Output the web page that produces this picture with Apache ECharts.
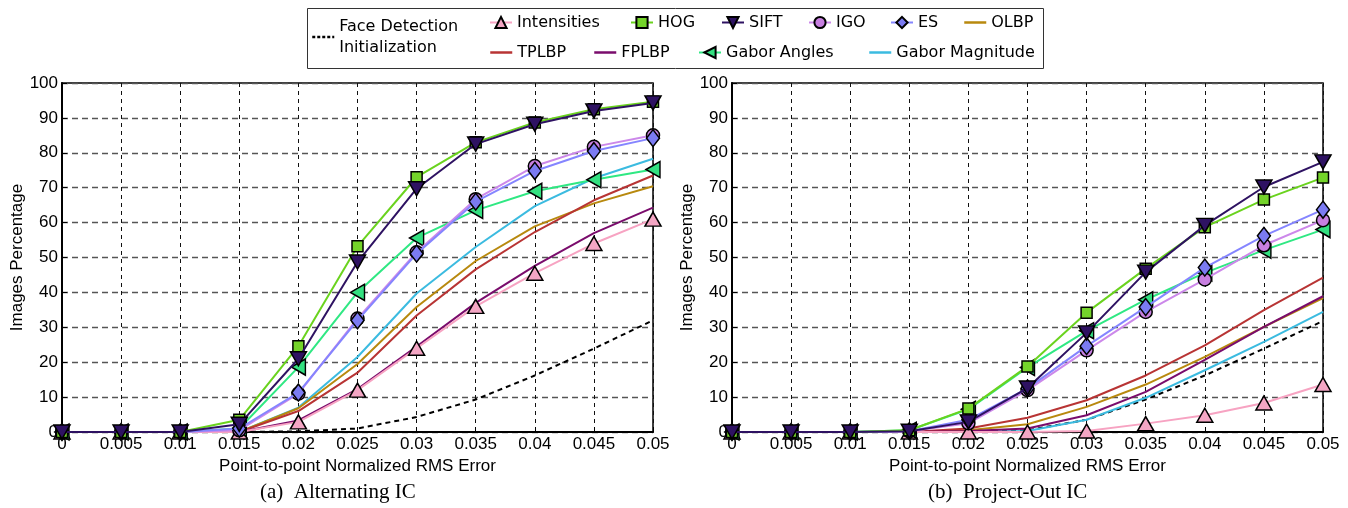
<!DOCTYPE html>
<html>
<head>
<meta charset="utf-8">
<script src="https://cdn.jsdelivr.net/npm/echarts@6/dist/echarts.min.js"></script>
<style>
html,body{margin:0;padding:0;background:#fff;}
#chart{width:1348px;height:508px;}
</style>
</head>
<body>
<div id="chart"></div>
<script>
// ---- Data ----
const xValues = [0, 0.005, 0.01, 0.015, 0.02, 0.025, 0.03, 0.035, 0.04, 0.045, 0.05];
const xTickLabels = ['0', '0.005', '0.01', '0.015', '0.02', '0.025', '0.03', '0.035', '0.04', '0.045', '0.05'];
const yTickLabels = ['0', '10', '20', '30', '40', '50', '60', '70', '80', '90', '100'];
const seriesNames = ['Face Detection Initialization', 'Intensities', 'HOG', 'SIFT', 'IGO', 'ES', 'OLBP', 'TPLBP', 'FPLBP', 'Gabor Angles', 'Gabor Magnitude'];
const captions = ['(a)  Alternating IC', '(b)  Project-Out IC'];
const xAxisTitle = 'Point-to-point Normalized RMS Error';
const yAxisTitle = 'Images Percentage';

// (a) Alternating IC
const faceA     = [0, 0, 0, 0, 0.2, 1, 4.3, 9.3, 16.2, 23.9, 32];
const intensA   = [0, 0, 0, 0, 2.9, 12, 24, 36, 45.5, 54, 61];
const hogA      = [0, 0, 0, 3.5, 24.6, 53.2, 73, 83, 88.7, 92.5, 94.6];
const siftA     = [0, 0, 0, 2.2, 21, 48.7, 69.7, 82.5, 88.2, 92, 94.3];
const igoA      = [0, 0, 0, 0.5, 11, 32.5, 51.5, 66.7, 76.2, 81.7, 85];
const esA       = [0, 0, 0, 1, 11.3, 32, 51.1, 66, 74.8, 80.5, 84.2];
const olbpA     = [0, 0, 0, 0, 6.8, 19.5, 35.8, 49, 58.9, 65.5, 70.4];
const tplbpA    = [0, 0, 0, 0, 6, 17, 33.4, 46.6, 57.3, 66.4, 73.5];
const fplbpA    = [0, 0, 0, 0, 3.3, 12.3, 24.5, 37, 47.6, 57, 64.3];
const gaborAngA = [0, 0, 0, 1, 18.6, 40, 55.6, 63.5, 69, 72.3, 75.2];
const gaborMagA = [0, 0, 0, 0, 7, 21.5, 39.7, 53, 64.7, 72.7, 78.3];

// (b) Project-Out IC
const faceB     = [0, 0, 0, 0, 0.1, 0.5, 3.5, 9.3, 16.2, 23.9, 31.8];
const intensB   = [0, 0, 0, 0, 0, 0, 0.3, 2.4, 4.8, 8.3, 13.6];
const hogB      = [0, 0, 0, 0.5, 6.7, 18.8, 34.2, 46.8, 58.7, 66.6, 72.9];
const siftB     = [0, 0, 0, 0.2, 2.9, 12.6, 28.4, 45.8, 59.2, 70.2, 77.4];
const igoB      = [0, 0, 0, 0.2, 2.5, 12, 23.4, 34.4, 43.7, 53.5, 60.7];
const esB       = [0, 0, 0, 0.2, 3.5, 12.5, 24.6, 35.8, 47.1, 56.2, 63.7];
const olbpB     = [0, 0, 0, 0, 0.5, 2.2, 7.2, 13.6, 21.5, 30.1, 38.4];
const tplbpB    = [0, 0, 0, 0, 1, 4.1, 9.1, 16.2, 24.8, 34.9, 44.2];
const fplbpB    = [0, 0, 0, 0, 0.3, 1, 4.8, 11.5, 20.7, 30.1, 38.9];
const gaborAngB = [0, 0, 0, 0.5, 6.5, 18.5, 29, 37.9, 45.6, 52.1, 58];
const gaborMagB = [0, 0, 0, 0, 0.1, 0.3, 3.5, 9.8, 17.7, 25.8, 34.4];

const dataA = [faceA, intensA, hogA, siftA, igoA, esA, olbpA, tplbpA, fplbpA, gaborAngA, gaborMagA];
const dataB = [faceB, intensB, hogB, siftB, igoB, esB, olbpB, tplbpB, fplbpB, gaborAngB, gaborMagB];

// ---- Styles ----
const styles = [
  {color: '#000000', fill: null, symbol: 'none', dash: [5, 4]},
  {color: '#f7a3c2', fill: '#f4a6c4', symbol: 'triangle', size: [16, 14], rot: 0},
  {color: '#6ad31e', fill: '#74d42a', symbol: 'rect', size: [11, 11], rot: 0},
  {color: '#2e1262', fill: '#2e1262', symbol: 'triangle', size: [16, 14], rot: 180},
  {color: '#cc88ea', fill: '#c77fe0', symbol: 'circle', size: [13, 13], rot: 0},
  {color: '#8585ff', fill: '#7b7bf2', symbol: 'diamond', size: [13, 17], rot: 0},
  {color: '#b8890e', fill: null, symbol: 'none'},
  {color: '#b83434', fill: null, symbol: 'none'},
  {color: '#7a0c6c', fill: null, symbol: 'none'},
  {color: '#2fe883', fill: '#33e080', symbol: 'triangle', size: [16, 14], rot: 90},
  {color: '#3bbbe0', fill: null, symbol: 'none'}
];
// drawing order (later on top)
const drawOrder = [0, 10, 6, 7, 8, 1, 9, 4, 5, 2, 3];

const grids = [
  {left: 62, top: 83, width: 591, height: 349},
  {left: 732, top: 83, width: 591, height: 349}
];

const axisFont = 'Liberation Sans';

function makeX(i) {
  return {
    gridIndex: i, type: 'value', min: 0, max: 0.05, interval: 0.005,
    axisLine: {show: true, onZero: false, lineStyle: {color: '#000', width: 2}},
    axisTick: {show: true, inside: true, length: 5, lineStyle: {color: '#000', width: 1}},
    axisLabel: {color: '#000', fontFamily: axisFont, fontSize: 17, margin: 4,
      formatter: v => xTickLabels[Math.round(v / 0.005)]},
    splitLine: {show: true, lineStyle: {color: '#111', width: 1, type: [4, 4]}},
    name: xAxisTitle, nameLocation: 'middle', nameGap: 17,
    nameTextStyle: {color: '#000', fontFamily: axisFont, fontSize: 17}
  };
}
function makeY(i) {
  return {
    gridIndex: i, type: 'value', min: 0, max: 100, interval: 10,
    axisLine: {show: true, onZero: false, lineStyle: {color: '#000', width: 2}},
    axisTick: {show: true, inside: true, length: 5, lineStyle: {color: '#000', width: 1}},
    axisLabel: {color: '#000', fontFamily: axisFont, fontSize: 17, margin: 4,
      formatter: v => yTickLabels[Math.round(v / 10)]},
    splitLine: {show: true, lineStyle: {color: '#555', width: 1.4, type: [6, 4]}},
    name: yAxisTitle, nameLocation: 'middle', nameGap: 32, nameRotate: 90,
    nameTextStyle: {color: '#000', fontFamily: axisFont, fontSize: 17}
  };
}

const series = [];
[dataA, dataB].forEach((set, gi) => {
  drawOrder.forEach((si, order) => {
    const st = styles[si];
    const s = {
      name: seriesNames[si], type: 'line', xAxisIndex: gi, yAxisIndex: gi,
      data: xValues.map((x, k) => [x, set[si][k]]),
      z: 2 + order,
      animation: false,
      lineStyle: {color: st.color, width: 2, type: st.dash ? st.dash : 'solid'},
      itemStyle: {color: st.fill || st.color, borderColor: '#000', borderWidth: 1.5},
      symbol: st.symbol, showSymbol: st.symbol !== 'none',
      emphasis: {disabled: true}
    };
    if (st.symbol !== 'none') {
      s.symbolSize = st.size;
      s.symbolRotate = st.rot;
    }
    series.push(s);
  });
});

// legend layout
const legendFont = {color: '#000', fontFamily: 'DejaVu Sans', fontSize: 16, lineHeight: 21};
const legendPos = [
  {name: 0, left: 311, cy: 37},
  {name: 1, left: 489, cy: 22},
  {name: 2, left: 630, cy: 22},
  {name: 3, left: 721, cy: 22},
  {name: 4, left: 808, cy: 22},
  {name: 5, left: 890, cy: 22},
  {name: 6, left: 963, cy: 22},
  {name: 7, left: 489, cy: 52},
  {name: 8, left: 593, cy: 52},
  {name: 9, left: 698, cy: 52},
  {name: 10, left: 868, cy: 52}
];
const legends = legendPos.map(p => {
  const st = styles[p.name];
  const lg = {
    data: [seriesNames[p.name]],
    left: p.left,
    top: p.name === 0 ? p.cy - 21 : p.cy - 10,
    padding: 0,
    itemWidth: 22, itemHeight: 14, itemGap: 0,
    selectedMode: false,
    textStyle: legendFont,
    formatter: n => n === 'Face Detection Initialization' ? 'Face Detection\nInitialization' : n
  };
  if (st.symbol === 'none') {
    lg.itemStyle = {color: 'rgba(0,0,0,0)', borderColor: 'rgba(0,0,0,0)', borderWidth: 0};
    lg.lineStyle = {color: st.color, width: 2.5, type: st.dash ? [3, 2] : 'solid'};
  }
  return lg;
});

const option = {
  backgroundColor: '#fff',
  animation: false,
  grid: grids.map(g => Object.assign({show: true, borderColor: '#000', borderWidth: 1.5, backgroundColor: 'transparent'}, g)),
  xAxis: [makeX(0), makeX(1)],
  yAxis: [makeY(0), makeY(1)],
  legend: legends,
  series: series,
  graphic: [
    {type: 'rect', shape: {x: 307.5, y: 8.5, width: 736, height: 60}, style: {fill: '#fff', stroke: '#333', lineWidth: 1}, z: -10, silent: true},
    {type: 'text', left: 338 - 78, top: 482, style: {text: captions[0], font: '21px "Liberation Serif"', fill: '#000'}},
    {type: 'text', left: 1008 - 80, top: 482, style: {text: captions[1], font: '21px "Liberation Serif"', fill: '#000'}}
  ]
};

const chart = echarts.init(document.getElementById('chart'), null, {renderer: 'canvas'});
chart.setOption(option);
</script>
</body>
</html>
